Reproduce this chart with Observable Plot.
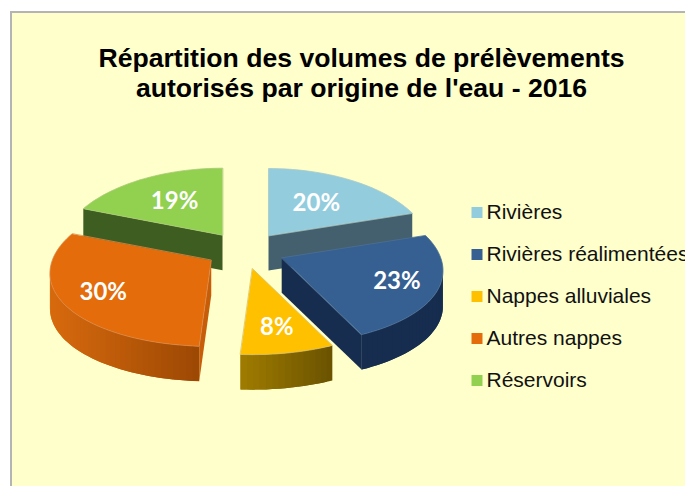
<!DOCTYPE html>
<html lang="fr">
<head>
<meta charset="utf-8">
<title>Répartition des volumes de prélèvements</title>
<script src="https://cdn.jsdelivr.net/npm/d3@7"></script>
<script src="https://cdn.jsdelivr.net/npm/@observablehq/plot@0.6"></script>
<style>
html,body{margin:0;padding:0;background:#fff;overflow:hidden}
svg{display:block}
</style>
</head>
<body>
<div id="chart"></div>
<script>
// Data
const categories = ["Rivières", "Rivières réalimentées", "Nappes alluviales", "Autres nappes", "Réservoirs"];
const shares = [20, 23, 8, 30, 19];
const titleLines = ["Répartition des volumes de prélèvements", "autorisés par origine de l'eau - 2016"];

// Colours and appearance
const topColors = ["#93cddd", "#366092", "#ffc000", "#e46c0a", "#92d050"];
const edgeColors = ["#a9c9c8", "#4d7096", "#d9c26a", "#d98a4a", "#a9c977"];
const radialColors = ["#44606e", "#162d4f", "#8a6800", "#c75d09", "#3e5d20"];
const rimLeft = ["#44606e", "#162d4f", "#a07c00", "#d86a0e", "#3e5d20"];
const rimRight = ["#44606e", "#162d4f", "#6a5200", "#9c4804", "#3e5d20"];
const labelRadius = [0.55, 0.75, 0.72, 0.75, 0.58];
const paintOrder = [0, 4, 3, 1, 2];

// 3D pie projection
const cx = 244.5, cy = 250, explodeX = 40, explodeY = 18.5, depth = 35;
const R = 159, kx = 0.168, T = 75.3, ky = 0.124;
const rad = (d) => (d * Math.PI) / 180;
function disk(r, deg) {
  const X = r * Math.sin(rad(deg)), Z = r * Math.cos(rad(deg));
  return [(R * X) / (1 + kx * Z), (-T * Z) / (1 + ky * Z)];
}
let acc = 0;
const slices = shares.map((v, i) => {
  const a0 = (acc / 100) * 360; acc += v;
  const a1 = (acc / 100) * 360, mid = (a0 + a1) / 2;
  const ax = cx + explodeX * Math.sin(rad(mid)), ay = cy - explodeY * Math.cos(rad(mid));
  const n = Math.max(2, Math.ceil((a1 - a0) / 2));
  const rim = d3.range(n + 1).map((k) => {
    const [dx, dy] = disk(1, a0 + ((a1 - a0) * k) / n);
    return [ax + dx, ay + dy];
  });
  return {i, mid, apex: [ax, ay], rim};
});

// Facets: quads of the side walls and the top faces
const facets = [];
let fid = 0;
function facet(points, fill, stroke) {
  const id = fid++;
  points.forEach(([x, y]) => facets.push({id, x, y, fill, stroke}));
}
const wall = (p, q, fill) => facet([p, q, [q[0], q[1] + depth], [p[0], p[1] + depth]], fill, "none");
for (const k of paintOrder) {
  const s = slices[k], rim = s.rim, first = rim[0], last = rim[rim.length - 1];
  if (first[0] < s.apex[0] - 1) wall(s.apex, first, radialColors[k]);
  if (last[0] > s.apex[0] + 1) wall(last, s.apex, radialColors[k]);
  const shade = d3.scaleLinear().domain(d3.extent(rim, (d) => d[0])).range([rimLeft[k], rimRight[k]]);
  // Each wall quad also covers the next step, so no seam shows between quads
  for (let j = 0; j < rim.length - 1; j++) {
    const p = rim[j], q = rim[j + 1];
    if (q[0] < p[0]) {
      const r = rim[j + 2] && rim[j + 2][0] < q[0] ? rim[j + 2] : q;
      facet([p, q, r, [r[0], r[1] + depth], [q[0], q[1] + depth], [p[0], p[1] + depth]], shade((p[0] + q[0]) / 2), "none");
    }
  }
  facet([s.apex, ...rim], topColors[k], edgeColors[k]);
}

const labels = slices.map((s) => {
  const [dx, dy] = disk(labelRadius[s.i], s.mid);
  return {x: s.apex[0] + dx, y: s.apex[1] + dy, text: shares[s.i] + "%"};
});
const legendRows = categories.map((name, i) => ({name, color: topColors[i], y: 212 + i * 42}));
const titleRows = titleLines.map((text, i) => ({text, x: 361, y: 58 + i * 30}));

const plot = Plot.plot({
  width: 685,
  height: 486,
  margin: 0,
  style: {background: "#ffffff"},
  x: {domain: [0, 685], range: [0, 685], axis: null},
  y: {domain: [0, 486], range: [0, 486], axis: null},
  color: {type: "identity"},
  marks: [
    Plot.rect([{x1: 11, x2: 700, y1: 12, y2: 500}], {
      x1: "x1", x2: "x2", y1: "y1", y2: "y2", fill: "#ffffcc", stroke: "#b4b4b4", strokeWidth: 2
    }),
    Plot.line(facets, {
      x: "x", y: "y", z: "id", fill: "fill", stroke: "stroke", strokeWidth: 0.8, curve: "linear-closed"
    }),
    Plot.text(titleRows, {
      x: "x", y: "y", text: "text", fill: "#000", fontSize: 26.6, fontWeight: "bold",
      fontFamily: "'Liberation Sans'", textAnchor: "middle"
    }),
    Plot.text(labels, {
      x: "x", y: "y", text: "text", fill: "#fff", fontSize: 24, fontWeight: "bold",
      fontFamily: "Lato", textAnchor: "middle"
    }),
    Plot.dot(legendRows, {
      x: () => 476.5, y: "y", r: 6.2, symbol: "square", fill: "color", stroke: "none"
    }),
    Plot.text(legendRows, {
      x: () => 486, y: "y", text: "name", fill: "#111", fontSize: 21, textAnchor: "start",
      fontFamily: "'Liberation Sans'"
    })
  ]
});
document.getElementById("chart").append(plot);
</script>
</body>
</html>
